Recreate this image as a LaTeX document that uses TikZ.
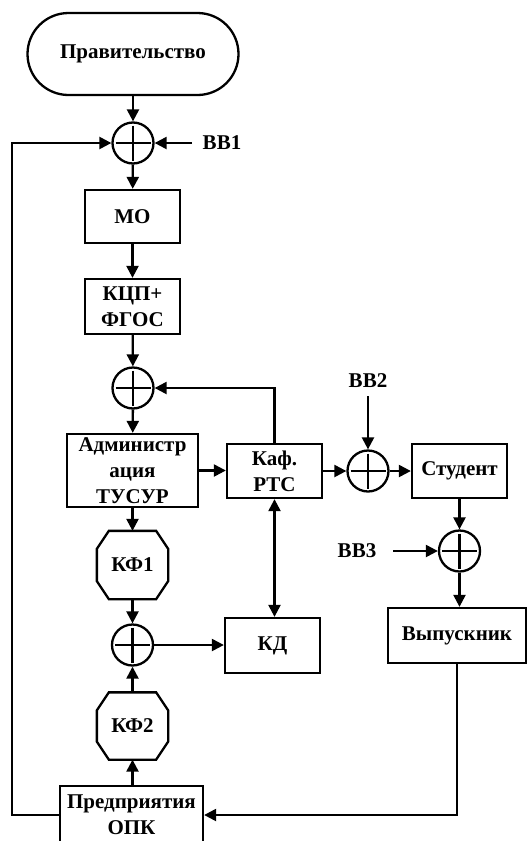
\documentclass[tikz,border=0pt]{standalone}
\usepackage{fontspec}
\setmainfont{Liberation Serif}
\usetikzlibrary{arrows.meta,calc}
\begin{document}
\begin{tikzpicture}[x=1pt,y=-1pt,
  line width=2.3pt,
  >={Triangle[length=12pt,width=12pt]},
  every node/.style={font=\fontsize{21}{26}\selectfont\bfseries, inner sep=0pt, align=center},
  blk/.style={draw, rectangle, minimum width=95pt, minimum height=54pt},
  summ/.style={draw, circle, minimum size=41pt, path picture={
      \draw[line width=2.5pt] ([yshift=-3pt]path picture bounding box.north) -- ([yshift=3pt]path picture bounding box.south);
      \draw[line width=2.5pt] ([xshift=3pt]path picture bounding box.west) -- ([xshift=-3pt]path picture bounding box.east);}},
  octo/.style={minimum width=69pt, minimum height=66pt},
  lbl/.style={}
]
\useasboundingbox (0,0) rectangle (529,841);

% nodes
\node[draw, rectangle, rounded corners=41pt, minimum width=211pt, minimum height=82pt] (gov) at (133,54) {Правительство};
\node[summ] (s1) at (133,143) {};
\node[lbl] (bb1) at (222,143) {ВВ1};
\coordinate (b1s) at (192,143);
\node[blk, minimum height=53pt] (mo) at (132.5,216.5) {МО};
\node[blk, minimum height=55pt] (kcp) at (132.5,306.5) {КЦП+\\ФГОС};
\node[summ] (s2) at (133,388) {};
\node[blk, minimum width=131pt, minimum height=73pt] (adm) at (132.5,470.5) {Администр\\ация\\ТУСУР};
\node[blk] (kaf) at (274.5,471) {Каф.\\РТС};
\node[summ] (s3) at (368,471) {};
\node[lbl] (bb2) at (368,381) {ВВ2};
\coordinate (b2s) at (368,396);
\node[blk] (stud) at (459.5,471) {Студент};
\node[summ] (s4) at (459.5,551) {};
\node[lbl] (bb3) at (357,551) {ВВ3};
\coordinate (b3s) at (393,551);
\node[blk, minimum width=138pt, minimum height=55pt] (vyp) at (457,635.5) {Выпускник};
\node[octo] (kf1) at (132.5,565) {КФ1};
\node[summ] (s5) at (132.5,645) {};
\node[blk, minimum height=55pt] (kd) at (272.5,645.5) {КД};
\node[octo, minimum height=65pt] (kf2) at (132.5,726) {КФ2};
\node[blk, minimum width=143pt, minimum height=58pt] (pred) at (131.5,815) {Предприятия\\ОПК};
\coordinate (lc1) at (12,815);
\coordinate (lc2) at (12,143);

% octagons
\foreach \k in {kf1,kf2}{
  \draw ($(\k.north west)+(12,0)$) -- ($(\k.north east)+(-12,0)$) -- ($(\k.north east)+(0,18)$)
     -- ($(\k.south east)+(0,-18)$) -- ($(\k.south east)+(-12,0)$) -- ($(\k.south west)+(12,0)$)
     -- ($(\k.south west)+(0,-18)$) -- ($(\k.north west)+(0,18)$) -- cycle;
}

% connectors
\draw[->] (gov) -- (s1);
\draw[->] (b1s) -- (s1);
\draw[->] (s1) -- (mo);
\draw[->] (mo) -- (kcp);
\draw[->] (kcp) -- (s2);
\draw[->] (s2) -- (adm);
\draw[->] (kaf.north) |- (s2.east);
\draw[->] (adm.east) -- (adm.east -| kaf.west);
\draw[->] (kaf) -- (s3);
\draw[->] (b2s) -- (s3);
\draw[->] (s3) -- (stud);
\draw[->] (stud) -- (s4);
\draw[->] (b3s) -- (s4);
\draw[->] (s4.south) -- (s4.south |- vyp.north);
\draw[->] (adm.south) -- (kf1.north);
\draw[->] (kf1.south) -- (s5.north);
\draw[->] (kf2.north) -- (s5.south);
\draw[->] (pred.north -| kf2) -- (kf2.south);
\draw[->] (s5.east) -- (s5.east -| kd.west);
\draw[<->] (kaf.south) -- (kaf.south |- kd.north);
\draw[->] (vyp.south) |- (pred.east);
\draw[->] (pred.west) -- (lc1) -- (lc2) -- (s1.west);
\end{tikzpicture}
\end{document}
